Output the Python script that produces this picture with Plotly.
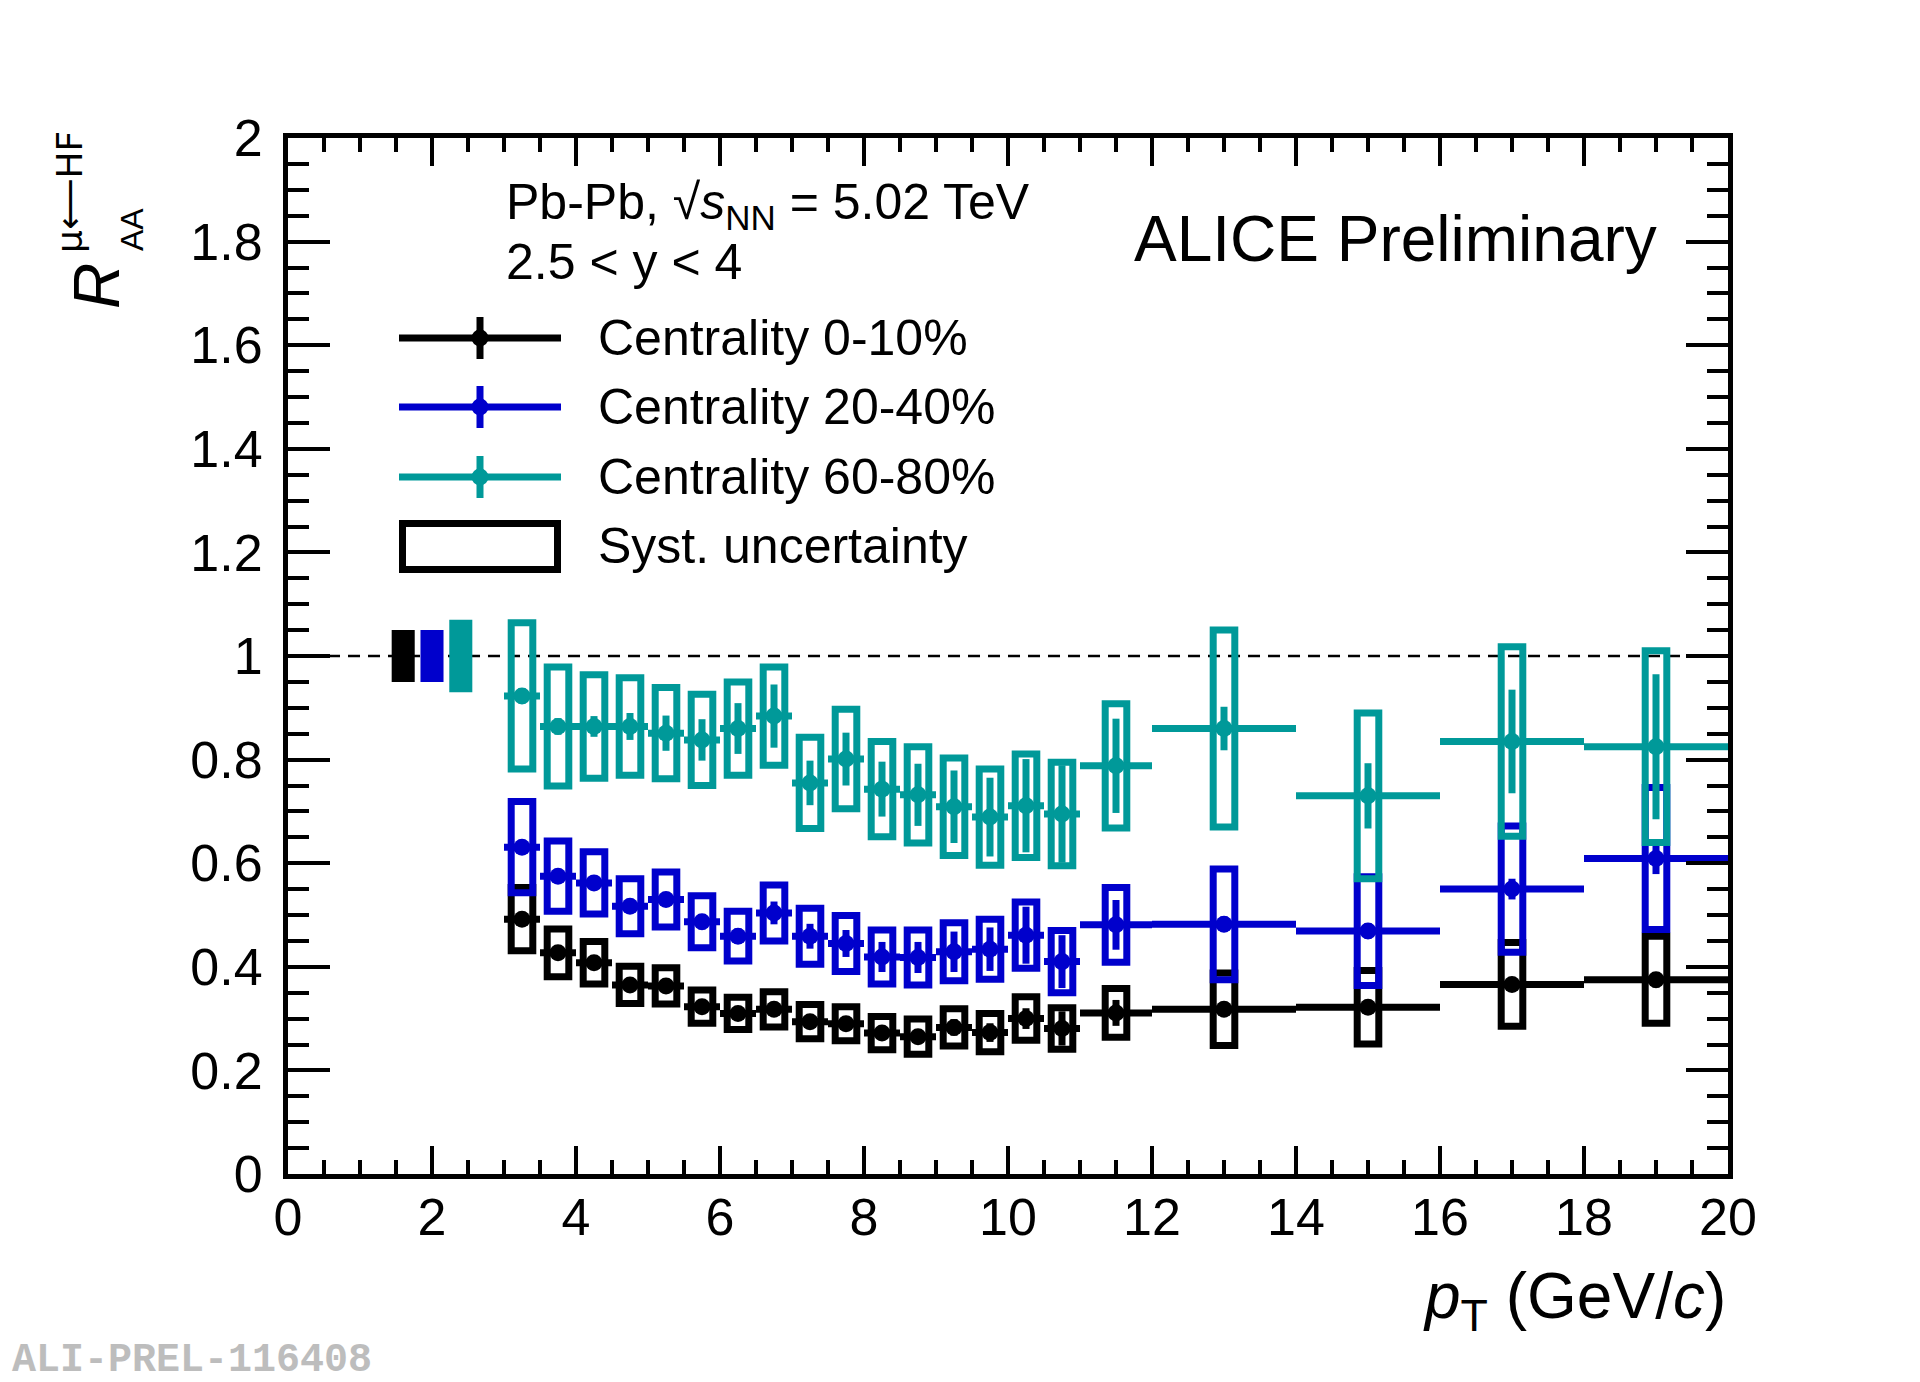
import plotly.graph_objects as go

# ---------------- data ----------------
PT_LOW = [3.0, 3.5, 4.0, 4.5, 5.0, 5.5, 6.0, 6.5, 7.0, 7.5, 8.0, 8.5, 9.0, 9.5,
          10.0, 10.5, 11.0, 12.0, 14.0, 16.0, 18.0]
PT_HIGH = [3.5, 4.0, 4.5, 5.0, 5.5, 6.0, 6.5, 7.0, 7.5, 8.0, 8.5, 9.0, 9.5, 10.0,
           10.5, 11.0, 12.0, 14.0, 16.0, 18.0, 20.0]

RAA_0_10 = [0.492, 0.427, 0.408, 0.365, 0.363, 0.323, 0.310, 0.318, 0.294, 0.290,
            0.272, 0.265, 0.283, 0.273, 0.300, 0.281, 0.311, 0.318, 0.322, 0.366, 0.375]
STAT_0_10 = [0.008, 0.008, 0.008, 0.010, 0.010, 0.010, 0.010, 0.012, 0.012, 0.012,
             0.013, 0.014, 0.016, 0.018, 0.020, 0.033, 0.025, 0.012, 0.012, 0.014, 0.015]
SYST_0_10 = [0.061, 0.046, 0.041, 0.036, 0.035, 0.032, 0.031, 0.034, 0.033, 0.033,
             0.032, 0.034, 0.036, 0.037, 0.042, 0.040, 0.047, 0.070, 0.071, 0.081, 0.084]

RAA_20_40 = [0.631, 0.575, 0.562, 0.517, 0.530, 0.487, 0.459, 0.504, 0.459, 0.445,
             0.419, 0.418, 0.429, 0.434, 0.461, 0.410, 0.481, 0.482, 0.469, 0.550, 0.609]
STAT_20_40 = [0.010, 0.010, 0.012, 0.012, 0.014, 0.015, 0.015, 0.022, 0.024, 0.026,
              0.029, 0.030, 0.039, 0.042, 0.055, 0.051, 0.048, 0.015, 0.015, 0.020, 0.030]
SYST_20_40 = [0.088, 0.068, 0.060, 0.053, 0.053, 0.050, 0.048, 0.054, 0.054, 0.054,
              0.052, 0.053, 0.056, 0.058, 0.064, 0.060, 0.072, 0.107, 0.105, 0.122, 0.137]

RAA_60_80 = [0.923, 0.864, 0.864, 0.864, 0.851, 0.838, 0.860, 0.884, 0.755, 0.801,
             0.743, 0.732, 0.709, 0.689, 0.711, 0.695, 0.788, 0.860, 0.730, 0.835, 0.825]
STAT_60_80 = [0.015, 0.016, 0.020, 0.026, 0.034, 0.040, 0.049, 0.061, 0.043, 0.051,
              0.053, 0.060, 0.070, 0.076, 0.090, 0.094, 0.091, 0.042, 0.063, 0.100, 0.140]
SYST_60_80 = [0.141, 0.115, 0.100, 0.094, 0.088, 0.088, 0.090, 0.095, 0.088, 0.096,
              0.092, 0.093, 0.094, 0.093, 0.100, 0.100, 0.120, 0.190, 0.160, 0.183, 0.185]

NORM_UNC = [0.05, 0.05, 0.07]          # normalisation uncertainty around 1
SERIES_LABELS = ["Centrality 0-10%", "Centrality 20-40%", "Centrality 60-80%"]
SYST_LABEL = "Syst. uncertainty"

X_TICKS = [0, 2, 4, 6, 8, 10, 12, 14, 16, 18, 20]
X_TICK_LABELS = ["0", "2", "4", "6", "8", "10", "12", "14", "16", "18", "20"]
Y_TICKS = [0, 0.2, 0.4, 0.6, 0.8, 1.0, 1.2, 1.4, 1.6, 1.8, 2.0]
Y_TICK_LABELS = ["0", "0.2", "0.4", "0.6", "0.8", "1", "1.2", "1.4", "1.6", "1.8", "2"]

# ---------------- style ----------------
W, H = 1920, 1382
L, R, T, B = 288, 1728, 138, 1174          # plot area in pixels
COLORS = ["#000000", "#0000cc", "#009999"]
FONT = "Liberation Sans, Arial, Helvetica, sans-serif"
LW = 7
BOX_HW = 0.15
NORM_POS = [1.6, 2.0, 2.4]
NORM_W = 0.32


def px(xp):
    return (xp - L) / (R - L)


def py(yp):
    return (B - yp) / (B - T)


centers = [(a + b) / 2 for a, b in zip(PT_LOW, PT_HIGH)]
halfw = [(b - a) / 2 for a, b in zip(PT_LOW, PT_HIGH)]

series = [
    (RAA_0_10, STAT_0_10, SYST_0_10),
    (RAA_20_40, STAT_20_40, SYST_20_40),
    (RAA_60_80, STAT_60_80, SYST_60_80),
]

fig = go.Figure()

# normalisation boxes
fig.add_trace(go.Bar(
    x=NORM_POS, y=[2 * u for u in NORM_UNC], base=[1 - u for u in NORM_UNC],
    width=NORM_W, marker=dict(color=COLORS, line=dict(width=0)),
    showlegend=False, hoverinfo="skip"))

for (vals, stat, syst), col, lab in zip(series, COLORS, SERIES_LABELS):
    xs, ys = [], []
    for x, v, s in zip(centers, vals, syst):
        xs += [x, x + BOX_HW, x + BOX_HW, x - BOX_HW, x - BOX_HW, x, None]
        ys += [v - s, v - s, v + s, v + s, v - s, v - s, None]
    fig.add_trace(go.Scatter(
        x=xs, y=ys, mode="lines", line=dict(color=col, width=LW),
        showlegend=False, hoverinfo="skip"))
    fig.add_trace(go.Scatter(
        x=centers, y=vals, mode="markers", name=lab,
        marker=dict(color=col, size=17, symbol="circle"),
        error_y=dict(type="data", array=stat, color=col, thickness=LW, width=0),
        error_x=dict(type="data", array=halfw, color=col, thickness=LW, width=0),
        showlegend=False))

axis_common = dict(
    showline=True, linewidth=5, linecolor="black", mirror="allticks",
    ticks="inside", tickwidth=4, tickcolor="black", showgrid=False, zeroline=False,
    tickfont=dict(family=FONT, size=52, color="black"), tickmode="array",
)
fig.update_xaxes(range=[0, 20], tickvals=X_TICKS, ticktext=X_TICK_LABELS, ticklen=28,
                 minor=dict(tickmode="linear", tick0=0, dtick=0.5, ticks="inside",
                            ticklen=14, tickwidth=4, tickcolor="black", showgrid=False),
                 ticklabelstandoff=-6, **axis_common)
fig.update_yaxes(range=[0, 2], tickvals=Y_TICKS, ticktext=Y_TICK_LABELS, ticklen=42,
                 minor=dict(tickmode="linear", tick0=0, dtick=0.05, ticks="inside",
                            ticklen=21, tickwidth=4, tickcolor="black", showgrid=False),
                 ticklabelstandoff=10, **axis_common)

shapes = []
anns = []


def ann(text, x, y, size, xanchor="left", yanchor="middle", angle=0, color="black",
        family=FONT):
    anns.append(dict(text=text, x=px(x), y=py(y), xref="paper", yref="paper",
                     xanchor=xanchor, yanchor=yanchor, showarrow=False, textangle=angle,
                     font=dict(family=family, size=size, color=color)))


# legend (drawn by hand, ROOT style)
row_y = [338, 407, 477]
for col, lab, yy in zip(COLORS, SERIES_LABELS, row_y):
    shapes.append(dict(type="line", xref="paper", yref="paper", x0=px(399), x1=px(561),
                       y0=py(yy), y1=py(yy), line=dict(color=col, width=LW)))
    shapes.append(dict(type="line", xref="paper", yref="paper", x0=px(480), x1=px(480),
                       y0=py(yy - 21), y1=py(yy + 21), line=dict(color=col, width=LW)))
    shapes.append(dict(type="circle", xref="paper", yref="paper", x0=px(471.5), x1=px(488.5),
                       y0=py(yy + 8.5), y1=py(yy - 8.5), fillcolor=col,
                       line=dict(color=col, width=0)))
    ann(lab, 596, yy, 50)
shapes.append(dict(type="rect", xref="paper", yref="paper", x0=px(402.5), x1=px(557.5),
                   y0=py(569.5), y1=py(523.5), line=dict(color="black", width=LW)))
ann(SYST_LABEL, 596, 546, 50)

# header texts
ann("Pb-Pb, \u221a<i>s</i><sub>NN</sub> = 5.02 TeV", 504, 205, 50)
ann("2.5 < y < 4", 504, 262, 50)
ann("ALICE Preliminary", 1659, 239, 64, xanchor="right")

# axis titles
ann("<i>p</i><sub>T</sub> (GeV/<i>c</i>)", 1728, 1300, 64, xanchor="right")
ann("<i>R</i>", 97, 286, 64, xanchor="center", angle=-90)
ann("AA", 132, 230, 32, xanchor="center", angle=-90)
ann("\u03bc\u27f5HF", 69, 192, 36, xanchor="center", angle=-90,
    family="DejaVu Sans, Liberation Sans, sans-serif")

# watermark
ann("<b>ALI-PREL-116408</b>", 10, 1360, 40, color="#bdbdbd",
    family="Liberation Mono, Courier New, monospace")

fig.update_layout(
    width=W, height=H, autosize=False,
    margin=dict(l=L, r=W - R, t=T, b=H - B, pad=0),
    paper_bgcolor="white", plot_bgcolor="white",
    showlegend=False, shapes=shapes, annotations=anns,
    font=dict(family=FONT, color="black"),
)

# reference line at R_AA = 1 (added after the layout shapes so it is not overwritten)
fig.add_hline(y=1, line=dict(color="black", width=2.5, dash="12px,8px"), layer="below")

fig.write_html("out.html", config={"displayModeBar": False},
               post_script="document.body.style.margin='0';")
